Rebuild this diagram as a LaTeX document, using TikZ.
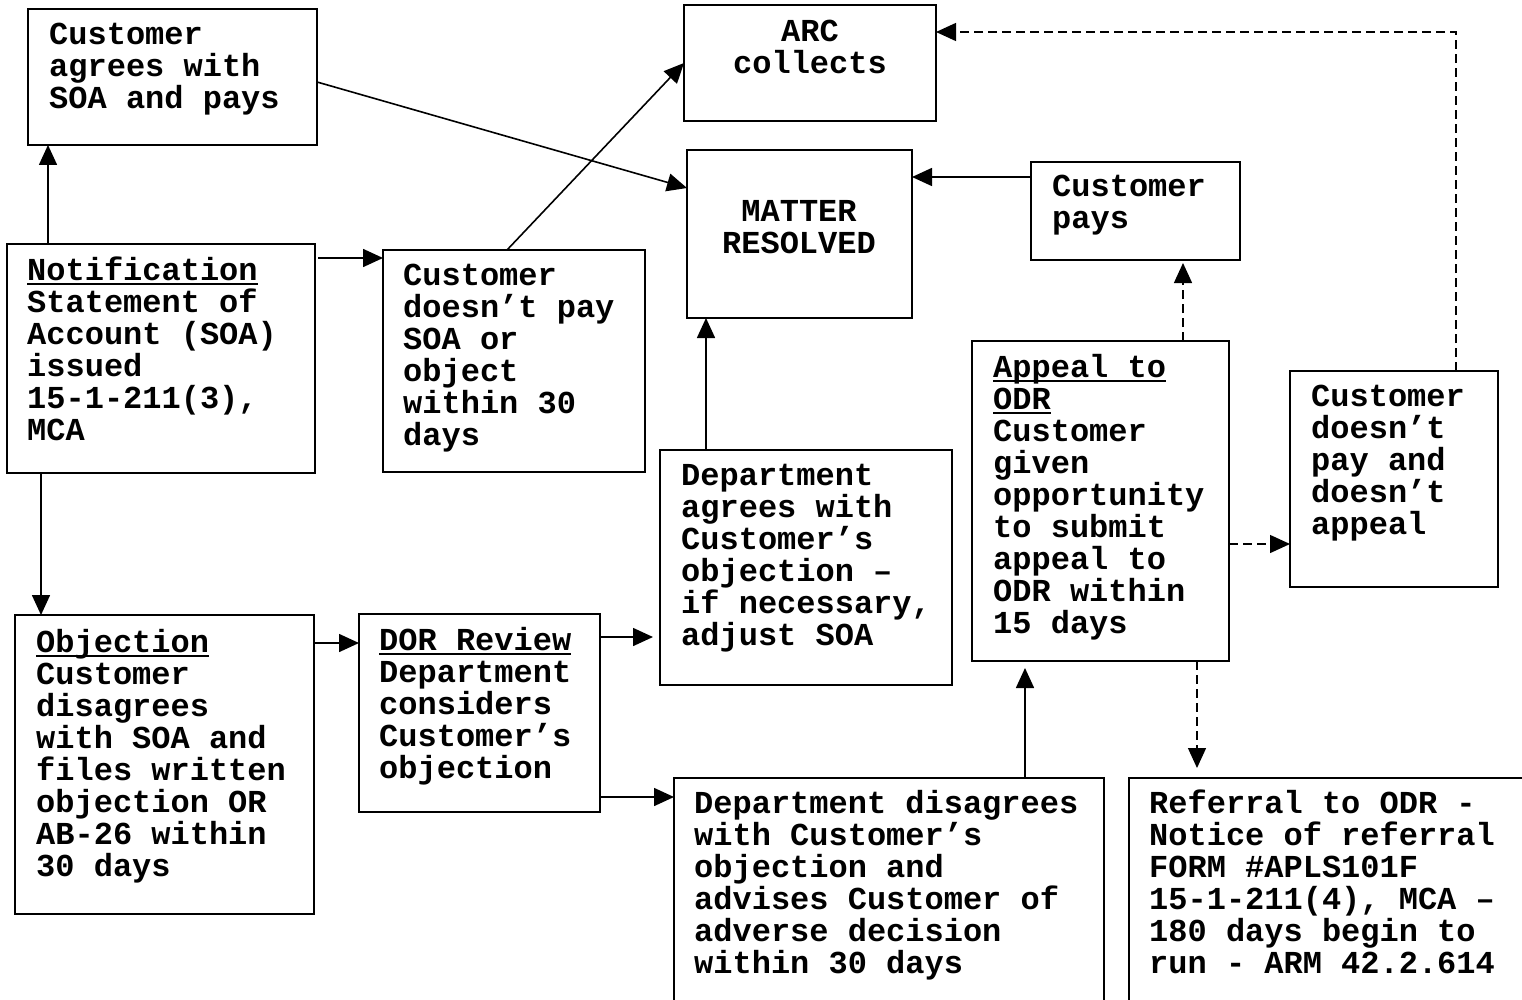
\documentclass[tikz,border=0pt]{standalone}
\usepackage{fontspec}
\newfontfamily\chartfont{Liberation Mono}
\usetikzlibrary{arrows.meta}
\newcommand{\undl}[1]{\leavevmode\setbox0=\hbox{#1}\rlap{\rule[-5pt]{\wd0}{2.5pt}}\box0}

\begin{document}
\begin{tikzpicture}[x=1pt,y=-1pt]
        %
        % `box' is the frame of a step, `txt' its text (first baseline).
        % `flow' is a solid connector, `maybe' a dashed one.
        \tikzstyle{box} = [draw,line width=2pt,anchor=north west,inner sep=0pt,outer sep=0pt]
        \tikzstyle{txt} = [anchor=base west,inner sep=0pt,text width=480pt,align=left,
                           font=\chartfont\bfseries\fontsize{32}{32}\selectfont,
                           execute at begin node={\spaceskip=0.6em\xspaceskip=0.6em\relax}]
        \tikzstyle{mid} = [txt,anchor=base,text width=300pt,align=center]
        \tikzstyle{flow} = [line width=1.6pt,-{Triangle[length=20pt,width=18pt]}]
        \tikzstyle{maybe} = [flow,line width=1.4pt,dash pattern=on 9pt off 5pt]
        %
        \useasboundingbox (0,0) rectangle (1522,1000);
        \fill[white] (0,0) rectangle (1522,1000);
        \clip (0,0) rectangle (1522,1000);
        %
        % Top row
        \node[box,minimum width=289pt,minimum height=136pt] (agree) at (28,9) {};
        \node[txt] (agree-t) at (49,45) {Customer\\agrees with\\SOA and pays};
        \node[box,minimum width=252pt,minimum height=116pt] (arc) at (684,5) {};
        \node[mid] (arc-t) at (810,42) {ARC\\collects};
        \node[box,minimum width=225pt,minimum height=168pt] (resolved) at (687,150) {};
        \node[mid] (resolved-t) at (799,222) {MATTER\\RESOLVED};
        \node[box,minimum width=209pt,minimum height=98pt] (paid) at (1031,162) {};
        \node[txt] (paid-t) at (1052,197) {Customer\\pays};
        %
        % Middle row
        \node[box,minimum width=308pt,minimum height=229pt] (notif) at (7,244) {};
        \node[txt] (notif-t) at (27,280) {\undl{Notification}\\Statement of\\Account (SOA)\\issued\\15-1-211(3),\\MCA};
        \node[box,minimum width=262pt,minimum height=222pt] (nopay) at (383,250) {};
        \node[txt] (nopay-t) at (403,285) {Customer\\doesn’t pay\\SOA or\\object\\within 30\\days};
        \node[box,minimum width=292pt,minimum height=235pt] (agreed) at (660,450) {};
        \node[txt] (agreed-t) at (681,485) {Department\\agrees with\\Customer’s\\objection –\\if necessary,\\adjust SOA};
        \node[box,minimum width=257pt,minimum height=320pt] (appeal) at (972,341) {};
        \node[txt] (appeal-t) at (993,377) {\undl{Appeal to}\\\undl{ODR}\\Customer\\given\\opportunity\\to submit\\appeal to\\ODR within\\15 days};
        \node[box,minimum width=208pt,minimum height=216pt] (giveup) at (1290,371) {};
        \node[txt] (giveup-t) at (1311,406) {Customer\\doesn’t\\pay and\\doesn’t\\appeal};
        %
        % Bottom row
        \node[box,minimum width=299pt,minimum height=299pt] (obj) at (15,615) {};
        \node[txt] (obj-t) at (36,652) {\undl{Objection}\\Customer\\disagrees\\with SOA and\\files written\\objection OR\\AB-26 within\\30 days};
        \node[box,minimum width=241pt,minimum height=198pt] (dor) at (359,614) {};
        \node[txt] (dor-t) at (379,650) {\undl{DOR Review}\\Department\\considers\\Customer’s\\objection};
        \node[box,minimum width=430pt,minimum height=240pt] (disagree) at (674,778) {};
        \node[txt] (disagree-t) at (694,813) {Department disagrees\\with Customer’s\\objection and\\advises Customer of\\adverse decision\\within 30 days};
        \node[box,minimum width=420pt,minimum height=240pt] (referral) at (1129,778) {};
        \node[txt] (referral-t) at (1149,813) {Referral to ODR -\\Notice of referral\\FORM \#APLS101F\\15-1-211(4), MCA –\\180 days begin to\\run - ARM 42.2.614};
        %
        % Solid connectors
        \draw[flow] ([xshift=41pt]notif.north west) -- ([xshift=20pt]agree.south west);
        \draw[flow] ([yshift=-5pt]agree.east) -- ([yshift=46pt]resolved.west);
        \draw[flow] ([xshift=3pt,yshift=-14pt]notif.north east) -- ([yshift=-8pt]nopay.north west);
        \draw[flow] ([xshift=-7pt]nopay.north) -- (arc.west);
        \draw[flow] ([xshift=34pt]notif.south west) -- ([xshift=26pt]obj.north west);
        \draw[flow] ([yshift=-28pt]obj.north east) -- ([yshift=-29pt]dor.north west);
        \draw[flow,shorten >=7pt] ([yshift=-23pt]dor.north east) -- ([yshift=-187pt]agreed.north west);
        \draw[flow] ([yshift=15pt]dor.south east) -- ([yshift=-19pt]disagree.north west);
        \draw[flow] ([xshift=46pt]agreed.north west) -- ([xshift=19pt]resolved.south west);
        \draw[flow] ([yshift=-15pt]paid.north west) -- ([yshift=-27pt]resolved.north east);
        \draw[flow,shorten >=7pt] ([xshift=351pt]disagree.north west) -- ([xshift=53pt]appeal.south west);
        %
        % Dashed connectors
        \draw[maybe,shorten >=3pt] ([xshift=-46pt]appeal.north east) -- ([xshift=152pt]paid.south west);
        \draw[maybe] ([yshift=117pt]appeal.south east) -- ([yshift=43pt]giveup.south west);
        \draw[maybe,shorten >=10pt] ([xshift=-32pt]appeal.south east) -- ([xshift=68pt]referral.north west);
        \draw[maybe] ([xshift=-42pt]giveup.north east) |- ([yshift=31pt]arc.east);
        %
\end{tikzpicture}
\end{document}
